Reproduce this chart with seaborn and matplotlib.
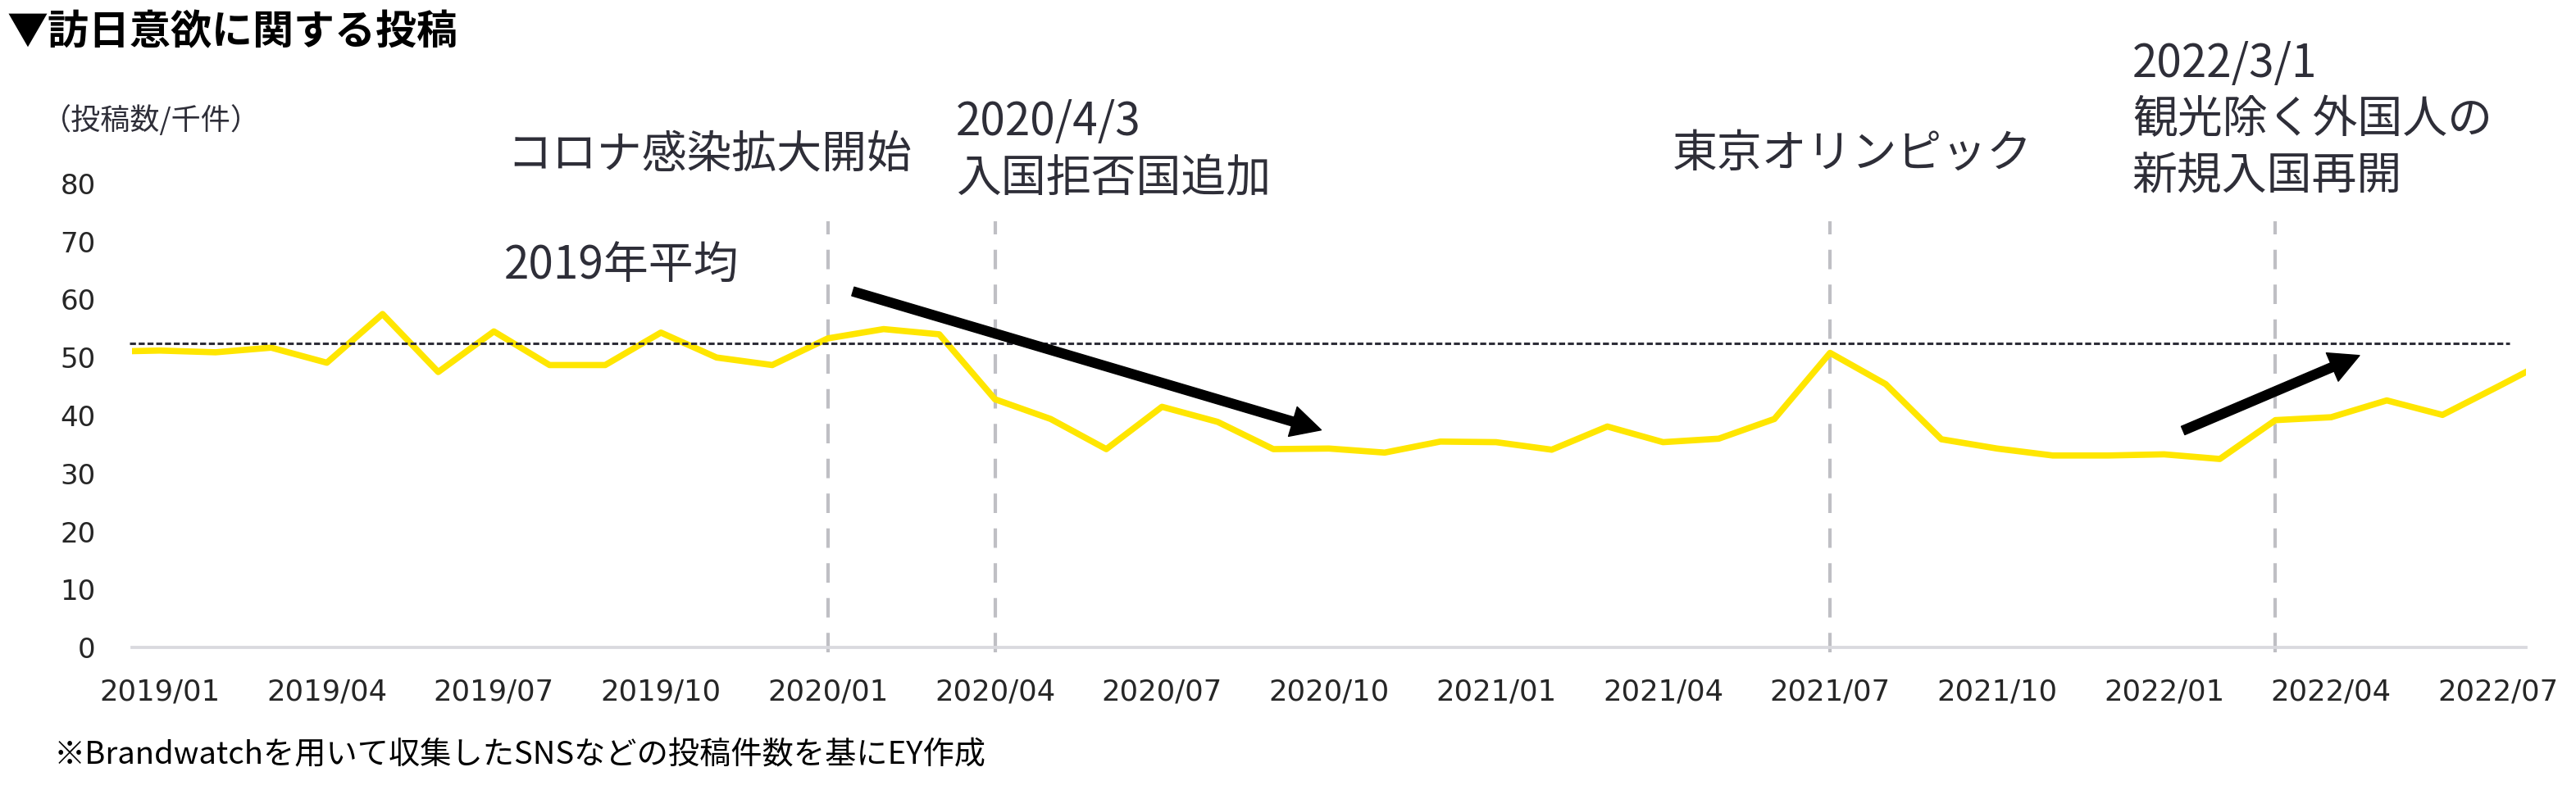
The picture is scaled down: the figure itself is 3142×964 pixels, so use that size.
import numpy as np
import pandas as pd
import matplotlib
matplotlib.use("Agg")
import matplotlib.pyplot as plt
import seaborn as sns

# Monthly posts (thousands); first and last month run past the axis edges
months = [
    "2018/12",
    "2019/01", "2019/02", "2019/03", "2019/04", "2019/05", "2019/06",
    "2019/07", "2019/08", "2019/09", "2019/10", "2019/11", "2019/12",
    "2020/01", "2020/02", "2020/03", "2020/04", "2020/05", "2020/06",
    "2020/07", "2020/08", "2020/09", "2020/10", "2020/11", "2020/12",
    "2021/01", "2021/02", "2021/03", "2021/04", "2021/05", "2021/06",
    "2021/07", "2021/08", "2021/09", "2021/10", "2021/11", "2021/12",
    "2022/01", "2022/02", "2022/03", "2022/04", "2022/05", "2022/06",
    "2022/07", "2022/08",
]
posts = [
    51.0,
    51.2, 50.9, 51.7, 49.1, 57.5, 47.5, 54.5, 48.7, 48.7, 54.3, 50.0, 48.7,
    53.3, 54.9, 54.0, 42.8, 39.4, 34.2, 41.5, 38.9, 34.2, 34.3, 33.6, 35.5,
    35.4, 34.1, 38.1, 35.4, 36.0, 39.4, 50.8, 45.4, 35.9, 34.3, 33.1, 33.1,
    33.3, 32.5, 39.2, 39.7, 42.6, 40.1, 45.0,
    50.0,
]
avg_2019 = 52.5
tick_labels = months[1:44:3]
event_months = ["2020/01", "2020/04", "2021/07", "2022/03"]
event_texts = [
    "コロナ感染拡大開始",
    "2020/4/3\n入国拒否国追加",
    "東京オリンピック",
    "2022/3/1\n観光除く外国人の\n新規入国再開",
]

df = pd.DataFrame({"x": np.arange(len(months)) - 1, "posts": posts})
idx = {m: i - 1 for i, m in enumerate(months)}

sns.set_style("white")
plt.rcParams["font.family"] = ["DejaVu Sans", "Noto Sans CJK JP"]
jp = ["Noto Sans CJK JP", "DejaVu Sans"]
dark = "#2E2E38"

fig = plt.figure(figsize=(31.42, 9.64), dpi=100)
ax = fig.add_axes([161 / 3142, 174 / 964, 2920 / 3142, 566 / 964])

sns.lineplot(data=df, x="x", y="posts", color="#FFE600", linewidth=5.5, ax=ax)

# 2019 average
ax.hlines(avg_2019, -0.55, 42.2, colors=dark, linewidth=2.2,
          linestyles=(0, (2.4, 1.1)), clip_on=False)

# event markers
for m in event_months:
    ax.vlines(idx[m], -0.8, 73.5, colors="#BFBFC4", linewidth=3,
              linestyles=(0, (5.7, 4.5)), clip_on=False, zorder=1)

ax.set_xlim(-0.5, 42.5)
ax.set_ylim(0, 80)
ax.set_yticks(range(0, 81, 10))
ax.set_xticks([idx[m] for m in tick_labels])
ax.set_xticklabels(tick_labels)
ax.tick_params(axis="y", length=0, pad=32, labelsize=24.5)
ax.tick_params(axis="x", length=0, pad=27, labelsize=25.5)
ax.set_xlabel("")
ax.set_ylabel("")
for s in ["top", "right", "left"]:
    ax.spines[s].set_visible(False)
ax.spines["bottom"].set_color("#D9D9DE")
ax.spines["bottom"].set_linewidth(2.7)

# annotations
text_pos = [(6.24, 84.9), (14.3, 85.7), (27.16, 85.1), (35.43, 90.9)]
for t, (x, y) in zip(event_texts, text_pos):
    ax.text(x, y, t, ha="left", va="center", fontsize=39.5, color=dark,
            family=jp, linespacing=1.25)
ax.text(6.19, 65.8, "2019年平均", ha="left", va="center", fontsize=39.5,
        color=dark, family=jp)

arrow = dict(arrowstyle="simple,head_length=26,head_width=27,tail_width=8",
             color="black", mutation_scale=1, shrinkA=0, shrinkB=0)
ax.annotate("", xy=(20.86, 37.5), xytext=(12.45, 61.4), arrowprops=arrow,
            annotation_clip=False)
ax.annotate("", xy=(39.51, 50.35), xytext=(36.34, 37.4), arrowprops=arrow,
            annotation_clip=False)

fig.text(8 / 3142, 1 - 40 / 964, "▼訪日意欲に関する投稿", ha="left", va="center",
         fontsize=36, fontweight="bold", family=jp, color="black")
fig.text(51 / 3142, 1 - 147 / 964, "（投稿数/千件）", ha="left", va="center",
         fontsize=26, family=jp, color=dark)
fig.text(66 / 3142, 1 - 921 / 964,
         "※Brandwatchを用いて収集したSNSなどの投稿件数を基にEY作成",
         ha="left", va="center", fontsize=27.5, family=jp, color="black")

fig.savefig("out.png", dpi=100)
plt.close(fig)
